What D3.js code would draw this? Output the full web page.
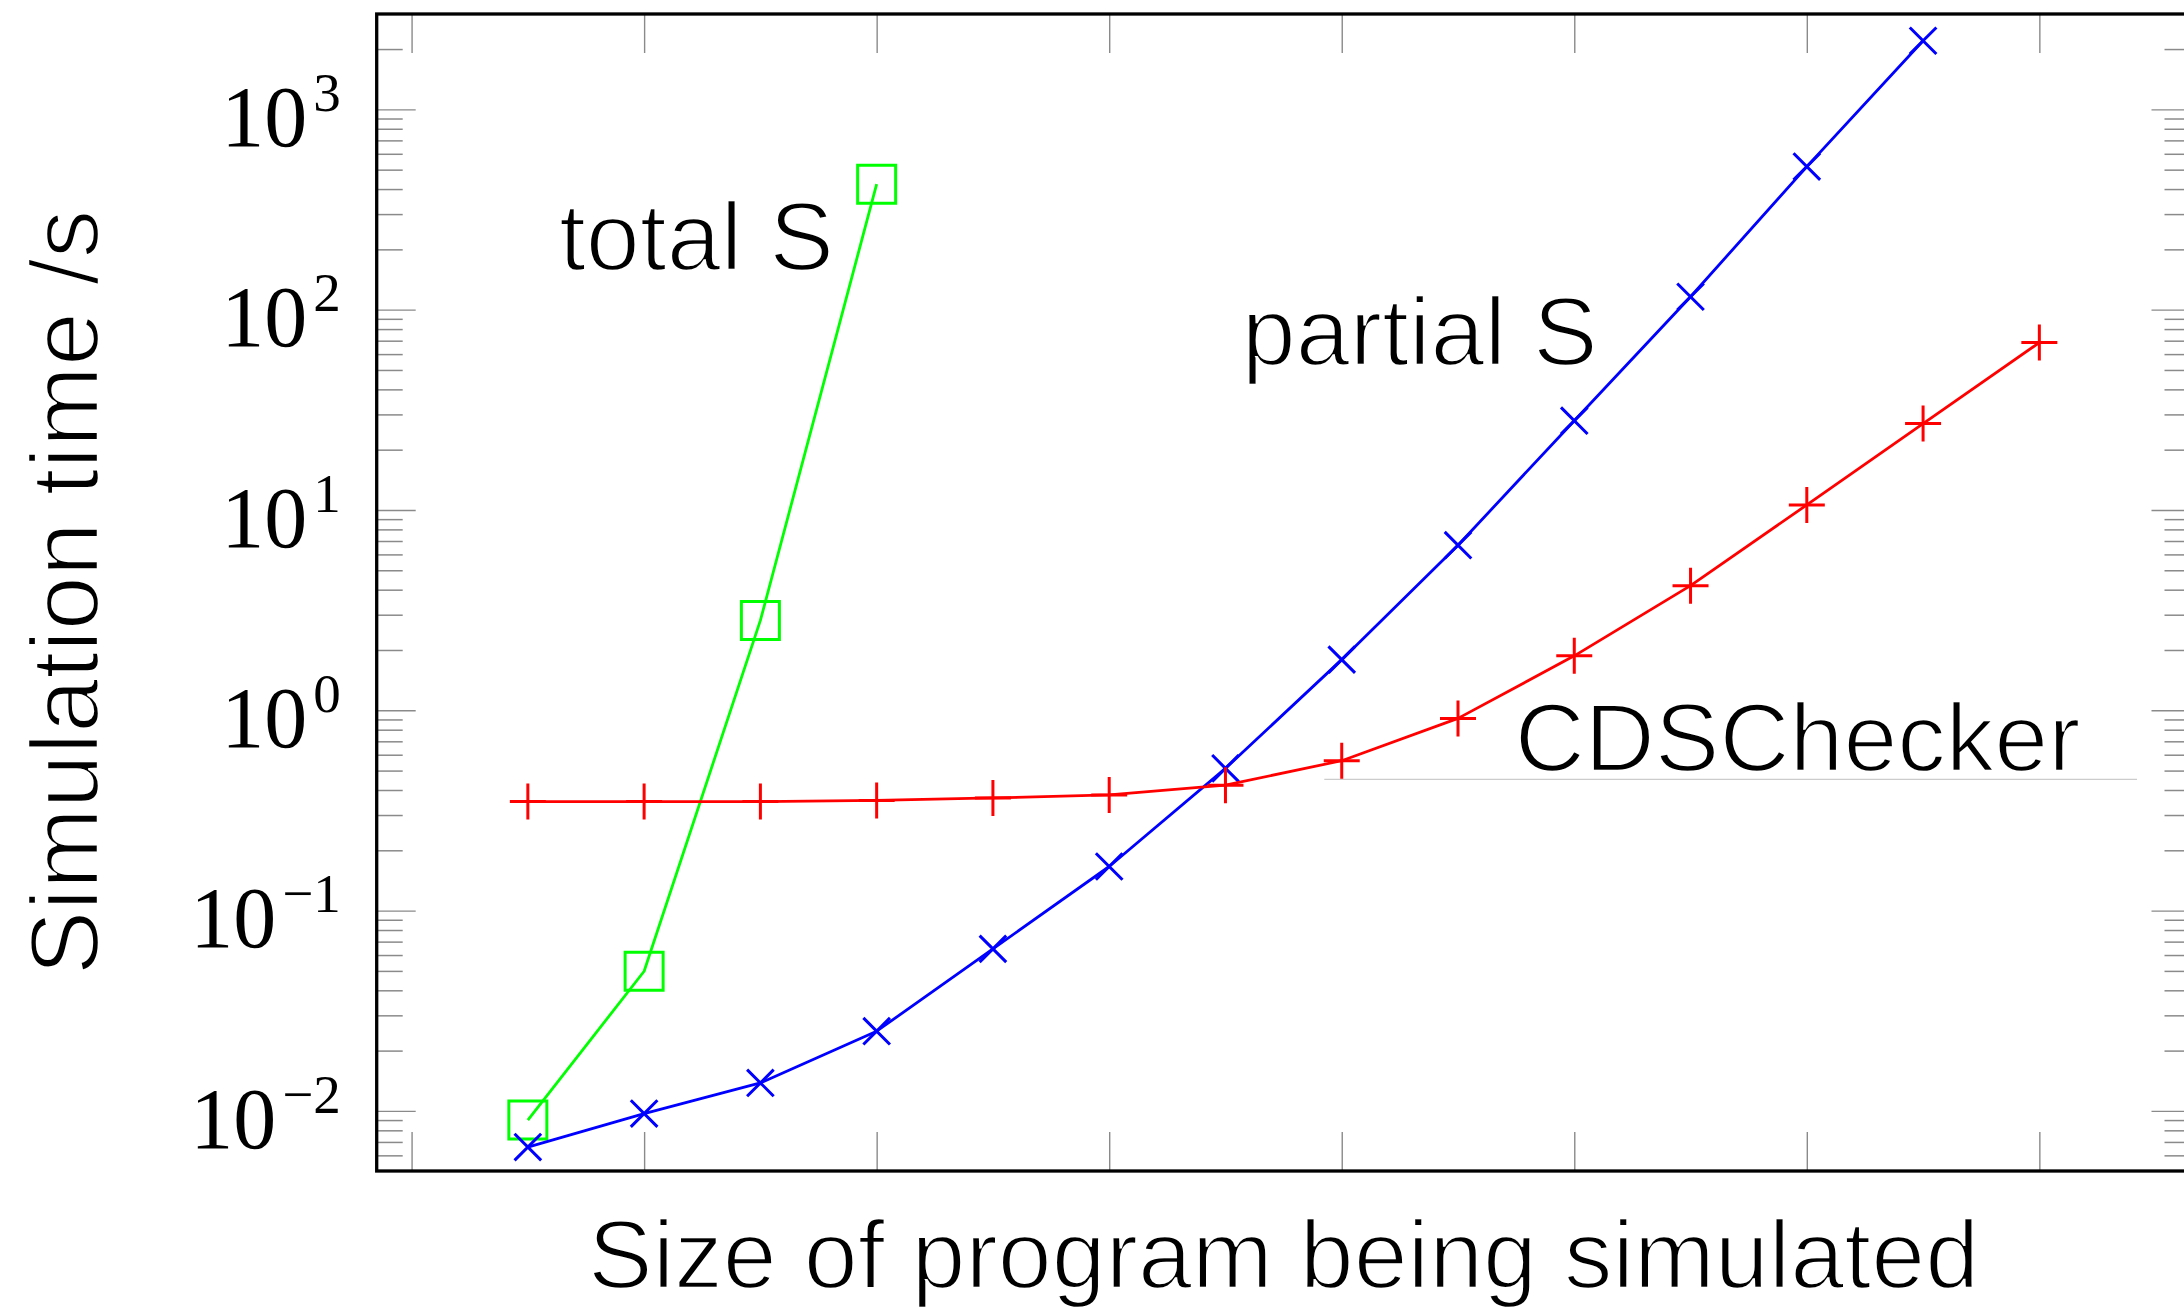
<!DOCTYPE html>
<html>
<head>
<meta charset="utf-8">
<script src="https://cdn.jsdelivr.net/npm/d3@7"></script>
<style>
  body { margin: 0; background: #fff; }
  .sans { font-family: "Liberation Sans", Helvetica, Arial, sans-serif; font-size: 97px; fill: #000;
          stroke: #fff; stroke-width: 2.4px; paint-order: fill; }
  .serif { font-family: "Liberation Serif", "Times New Roman", serif; fill: #000; }
</style>
</head>
<body>
<svg id="chart" width="2184" height="1310"></svg>
<script>
// program sizes (x) and simulation times in seconds (y)
const sizes = [1, 2, 3, 4, 5, 6, 7, 8, 9, 10, 11, 12, 13, 14];
const cdsChecker = [0.35, 0.35, 0.35, 0.355, 0.365, 0.378, 0.423, 0.56, 0.911, 1.87, 4.19, 10.6, 27.0, 68.5];
const partialS = [0.0066, 0.0097, 0.0138, 0.025, 0.0644, 0.166, 0.513, 1.79, 6.67, 27.9, 116, 518, 2200];
const totalS = [0.009, 0.0498, 2.81, 423];

const xTicks = [0, 2, 4, 6, 8, 10, 12, 14];
const yTickExps = [-2, -1, 0, 1, 2, 3];

// in-plot annotations (data coordinates)
const labelText = ["total S", "partial S", "CDSChecker"];
const labelX = [1.267, 7.14, 9.487];
const labelY = [158, 52.8, 0.497];
const guideX = [7.85, 14.84];
const guideY = 0.452;

const plotL = 376.7, plotR = 2190.5, plotT = 14, plotB = 1171;

const svg = d3.select("#chart");

const x = d3.scaleLinear().domain([-0.3, 15.3]).range([plotL, plotR]);
const y = d3.scaleLog().domain([Math.pow(10, -2.3), Math.pow(10, 3.476)]).range([plotB, plotT]);

const tickColor = "#8a8a8a";

// x ticks, bottom and top, pointing inward
svg.append("g")
  .attr("transform", "translate(0," + plotB + ")")
  .call(d3.axisBottom(x).tickValues(xTicks).tickSize(-39).tickFormat(""))
  .call(g => g.select(".domain").remove())
  .call(g => g.selectAll("line").attr("stroke", tickColor).attr("stroke-width", 1.4));

svg.append("g")
  .attr("transform", "translate(0," + plotT + ")")
  .call(d3.axisTop(x).tickValues(xTicks).tickSize(-39).tickFormat(""))
  .call(g => g.select(".domain").remove())
  .call(g => g.selectAll("line").attr("stroke", tickColor).attr("stroke-width", 1.4));

// y ticks: majors (decades) and minors, on left and right sides
const allY = y.ticks();
const majorY = yTickExps.map(e => Math.pow(10, e));
const minorY = allY.filter(v => !majorY.some(m => Math.abs(v / m - 1) < 1e-9));

[[plotL, d3.axisLeft], [plotR, d3.axisRight]].forEach(([x0, axisFn]) => {
  svg.append("g")
    .attr("transform", "translate(" + x0 + ",0)")
    .call(axisFn(y).tickValues(minorY).tickSize(-26).tickFormat(""))
    .call(g => g.select(".domain").remove())
    .call(g => g.selectAll("line").attr("stroke", tickColor).attr("stroke-width", 1.5));
  svg.append("g")
    .attr("transform", "translate(" + x0 + ",0)")
    .call(axisFn(y).tickValues(majorY).tickSize(-39).tickFormat(""))
    .call(g => g.select(".domain").remove())
    .call(g => g.selectAll("line").attr("stroke", tickColor).attr("stroke-width", 1.4));
});

// y tick labels as 10^e
const yLabels = svg.append("g").attr("class", "serif");
yTickExps.forEach(e => {
  const t = yLabels.append("text")
    .attr("x", plotL - 36)
    .attr("y", y(Math.pow(10, e)) + 36.7)
    .attr("text-anchor", "end");
  t.append("tspan").attr("font-size", 86).text("10");
  t.append("tspan").attr("font-size", 55).attr("dx", 6).attr("dy", -35)
    .text(e < 0 ? "\u2212" + (-e) : String(e));
});

// frame
svg.append("rect")
  .attr("x", plotL).attr("y", plotT)
  .attr("width", plotR - plotL).attr("height", plotB - plotT)
  .attr("fill", "none").attr("stroke", "#000").attr("stroke-width", 3.3);

// thin guide line under CDSChecker label
svg.append("line")
  .attr("x1", x(guideX[0])).attr("x2", x(guideX[1]))
  .attr("y1", y(guideY)).attr("y2", y(guideY))
  .attr("stroke", "#cccccc").attr("stroke-width", 1.3);

const line = d3.line().x(d => x(d[0])).y(d => y(d[1]));

function series(values, color, mark) {
  const pts = values.map((v, i) => [sizes[i], v]);
  const g = svg.append("g");
  g.append("path")
    .attr("d", line(pts))
    .attr("fill", "none").attr("stroke", color).attr("stroke-width", 2.8)
    .attr("stroke-linejoin", "round");
  g.selectAll(".m").data(pts).enter().append("path")
    .attr("transform", d => "translate(" + x(d[0]) + "," + y(d[1]) + ")")
    .attr("d", mark)
    .attr("fill", "none").attr("stroke", color).attr("stroke-width", 3);
}

const markSquare = "M-19,-19H19V19H-19Z";
const markX = "M-13.3,-13.3L13.3,13.3M-13.3,13.3L13.3,-13.3";
const markPlus = "M-18,0H18M0,-18V18";

series(totalS, "#00ff00", markSquare);
series(partialS, "#0000ff", markX);
series(cdsChecker, "#ff0000", markPlus);

// annotations
labelText.forEach((s, i) => {
  svg.append("text").attr("class", "sans")
    .attr("x", x(labelX[i])).attr("y", y(labelY[i]))
    .text(s);
});

// axis titles
svg.append("text").attr("class", "sans")
  .attr("x", x(7.5)).attr("y", 1288)
  .attr("text-anchor", "middle")
  .text("Size of program being simulated");

svg.append("text").attr("class", "sans")
  .attr("transform", "translate(98," + ((plotT + plotB) / 2) + ") rotate(-90)")
  .attr("text-anchor", "middle")
  .text("Simulation time /s");
</script>
</body>
</html>
